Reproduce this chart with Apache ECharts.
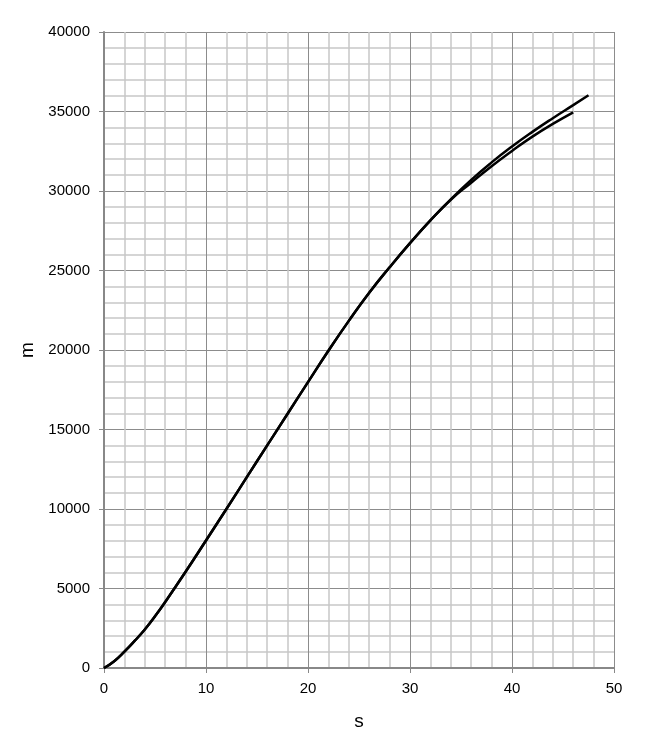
<!DOCTYPE html>
<html>
<head>
<meta charset="utf-8">
<script src="https://cdn.jsdelivr.net/npm/echarts@6/dist/echarts.min.js"></script>
<style>
  html, body { margin: 0; padding: 0; background: #fff; }
  #chart { width: 648px; height: 748px; }
</style>
</head>
<body>
<div id="chart"></div>
<script>
// time (s) and distance (m)
var timeA = [0, 1, 2, 3, 4, 5, 6, 8, 10, 12, 14, 16, 18, 20, 22, 24, 26, 28, 30, 32, 34, 36, 38, 40, 42, 44, 46, 47.5]
var distA = [0, 430, 1030, 1700, 2420, 3250, 4150, 6050, 8020, 10000, 12000, 14000, 15990, 17980, 19950, 21830, 23600, 25200, 26720, 28150, 29480, 30700, 31800, 32800, 33720, 34580, 35400, 36020]

var timeB = [0, 1, 2, 3, 4, 5, 6, 8, 10, 12, 14, 16, 18, 20, 22, 24, 26, 28, 30, 32, 34, 36, 38, 40, 42, 44, 46]
var distB = [0, 430, 1030, 1700, 2420, 3250, 4150, 6050, 8020, 10000, 12000, 14000, 15990, 17980, 19950, 21830, 23600, 25200, 26720, 28150, 29450, 30520, 31560, 32520, 33420, 34220, 34950]

var xTicks = [0, 10, 20, 30, 40, 50]
var yTicks = [0, 5000, 10000, 15000, 20000, 25000, 30000, 35000, 40000]

function pairs (xs, ys) {
  return xs.map(function (x, i) { return [x, ys[i]] })
}

var myChart = echarts.init(document.getElementById('chart'))
var font = 'Liberation Sans'

var option = {
  animation: false,
  grid: {
    left: 104,
    right: 34,
    top: 32,
    bottom: 80
  },
  xAxis: {
    type: 'value',
    min: xTicks[0],
    max: xTicks[xTicks.length - 1],
    interval: 10,
    name: 's',
    nameLocation: 'middle',
    nameGap: 44,
    nameTextStyle: { fontSize: 19, color: '#000', fontFamily: font },
    axisLine: { show: true, lineStyle: { color: '#888', width: 2 } },
    axisTick: { show: true, length: 5, lineStyle: { color: '#888', width: 1 } },
    axisLabel: { margin: 13, fontSize: 15, color: '#000', fontFamily: font, formatter: function (v) { return String(v) } },
    splitLine: { show: true, lineStyle: { color: '#8c8c8c', width: 1 } },
    minorTick: { show: false, splitNumber: 5 },
    minorSplitLine: { show: true, lineStyle: { color: '#c8c8c8', width: 1.5 } }
  },
  yAxis: {
    type: 'value',
    min: yTicks[0],
    max: yTicks[yTicks.length - 1],
    interval: 5000,
    name: 'm',
    nameLocation: 'middle',
    nameGap: 66,
    nameRotate: 90,
    nameTextStyle: { fontSize: 19, color: '#000', fontFamily: font },
    axisLine: { show: true, lineStyle: { color: '#888', width: 2 } },
    axisTick: { show: true, length: 5, lineStyle: { color: '#888', width: 1 } },
    axisLabel: { margin: 14, fontSize: 15, color: '#000', fontFamily: font, formatter: function (v) { return String(v) } },
    splitLine: { show: true, lineStyle: { color: '#8c8c8c', width: 1 } },
    minorTick: { show: false, splitNumber: 5 },
    minorSplitLine: { show: true, lineStyle: { color: '#c8c8c8', width: 1.5 } }
  },
  series: [
    {
      name: 'A',
      type: 'line',
      symbol: 'none',
      smooth: 0.5,
      data: pairs(timeA, distA),
      lineStyle: { color: '#000', width: 2.5 }
    },
    {
      name: 'B',
      type: 'line',
      symbol: 'none',
      smooth: 0.5,
      data: pairs(timeB, distB),
      lineStyle: { color: '#000', width: 2.5 }
    }
  ]
}
myChart.setOption(option)
</script>
</body>
</html>
